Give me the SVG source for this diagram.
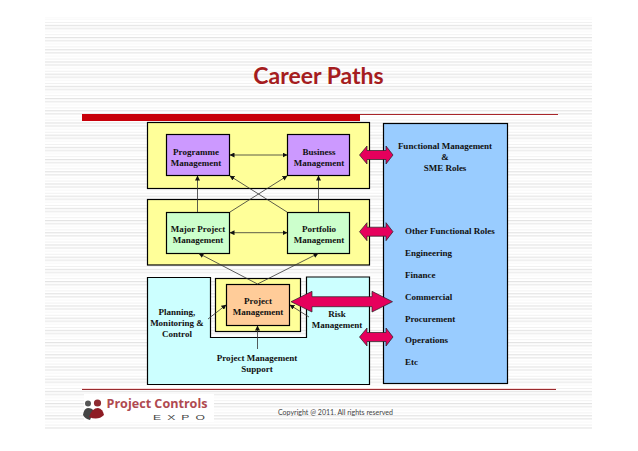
<svg xmlns="http://www.w3.org/2000/svg" width="638" height="451" viewBox="0 0 638 451">
<style>
.p{stroke:#000;stroke-width:1.2}
.c{fill:none;stroke:#333;stroke-width:.8}
.t{font-family:"Liberation Serif",serif;font-weight:bold;font-size:9px;fill:#111;text-anchor:middle}
.l{font-family:"Liberation Serif",serif;font-weight:bold;font-size:9px;fill:#111}
.h{fill:#e6005c;stroke:#222;stroke-width:.7}
</style>
<defs>
<pattern id="st" x="45" y="22" width="20" height="12.2" patternUnits="userSpaceOnUse">
<rect y="0" width="20" height="1" fill="#f1f1f1"/>
<rect y="3" width="20" height="1" fill="#dedede"/>
<rect y="6" width="20" height="1" fill="#e2e2e2"/>
<rect y="9" width="20" height="1" fill="#f7f7f7"/>
</pattern>
<marker id="a" markerWidth="5" markerHeight="5" refX="4.5" refY="2.5" orient="auto-start-reverse" markerUnits="userSpaceOnUse"><path d="M0 0L5 2.5L0 5Z" fill="#111"/></marker>
</defs>
<rect width="638" height="451" fill="#fff"/>
<rect x="45" y="17" width="547" height="412" fill="url(#st)"/>
<text x="318.500" y="84" text-anchor="middle" style="font-family:Lato,sans-serif;font-weight:bold;font-size:23px;fill:#a51c20">Career Paths</text>
<g id="rules">
<rect x="82" y="114" width="278" height="7" fill="#c8000a"/>
<rect x="360" y="114" width="198" height="1" fill="#a8252a"/>
<rect x="82" y="388" width="474" height="1" fill="#f6d8d8"/>
<rect x="82" y="389" width="474" height="1" fill="#9a2a2e"/>
</g>
<g id="panels">
<rect class="p" x="147.500" y="122.500" width="222" height="66" fill="#ffff99"/>
<rect class="p" x="147.500" y="199.500" width="222" height="65.500" fill="#ffff99"/>
<path class="p" d="M147.500 277.500H210.500V337.500H306.500V277H369.500V384.500H147.500Z" fill="#ccffff"/>
<rect class="p" x="215.500" y="278.500" width="85" height="53" fill="#ffff99"/>
</g>
<g id="functional">
<rect class="p" x="383.500" y="123.500" width="124" height="260" fill="#99ccff"/>
<text class="t" x="445" y="149">Functional Management</text>
<text class="t" x="445" y="160">&amp;</text>
<text class="t" x="445" y="171">SME Roles</text>
<text class="l" x="405" y="234">Other Functional Roles</text>
<text class="l" x="405" y="256">Engineering</text>
<text class="l" x="405" y="278">Finance</text>
<text class="l" x="405" y="300">Commercial</text>
<text class="l" x="405" y="322">Procurement</text>
<text class="l" x="405" y="343">Operations</text>
<text class="l" x="405" y="365">Etc</text>
</g>
<g id="programme">
<rect class="p" x="166.500" y="134.500" width="63" height="41" fill="#cc99ff"/>
<text class="t" x="196" y="154.500">Programme</text>
<text class="t" x="196" y="166">Management</text>
</g>
<g id="business">
<rect class="p" x="287.500" y="134.500" width="62" height="41" fill="#cc99ff"/>
<text class="t" x="319" y="154.500">Business</text>
<text class="t" x="319" y="166">Management</text>
</g>
<g id="major">
<rect class="p" x="166.500" y="212.500" width="63" height="41" fill="#ccffcc"/>
<text class="t" x="198" y="231.700">Major Project</text>
<text class="t" x="198" y="242.700">Management</text>
</g>
<g id="portfolio">
<rect class="p" x="287.500" y="212.500" width="62" height="41" fill="#ccffcc"/>
<text class="t" x="319" y="231.700">Portfolio</text>
<text class="t" x="319" y="242.700">Management</text>
</g>
<g id="project">
<rect class="p" x="226.500" y="284.500" width="63" height="41" fill="#ffcc99"/>
<text class="t" x="258" y="303.700">Project</text>
<text class="t" x="258" y="314.700">Management</text>
</g>
<g id="planning">
<text class="t" x="177" y="315.300">Planning,</text>
<text class="t" x="177" y="326">Monitoring &amp;</text>
<text class="t" x="177" y="337">Control</text>
</g>
<g id="risk">
<text class="t" x="337" y="317">Risk</text>
<text class="t" x="337" y="328">Management</text>
</g>
<g id="support">
<text class="t" x="257" y="361">Project Management</text>
<text class="t" x="257" y="372">Support</text>
</g>
<g id="connectors">
<path class="c" d="M230 155H287" marker-start="url(#a)" marker-end="url(#a)"/>
<path class="c" d="M230 232.700H287" marker-start="url(#a)" marker-end="url(#a)"/>
<path class="c" d="M197.500 212V176" marker-end="url(#a)"/>
<path class="c" d="M318.500 212V176" marker-end="url(#a)"/>
<path class="c" d="M230 212L287 176" marker-end="url(#a)"/>
<path class="c" d="M287 212L230 176" marker-end="url(#a)"/>
<path class="c" d="M257.500 284L199 253.500" marker-end="url(#a)"/>
<path class="c" d="M257.500 284L318 253.500" marker-end="url(#a)"/>
<path class="c" d="M208 319L226 305" marker-end="url(#a)"/>
<path class="c" d="M309 317L290 305" marker-end="url(#a)"/>
<path class="c" d="M257.500 349V326" marker-end="url(#a)"/>
<path class="h" d="M359.500 155L367 146V150.500H386V146L393 155L386 164V159.500H367V164Z"/>
<path class="h" d="M359.500 231.700L367 222.700V227.200H386V222.700L393 231.700L386 240.700V236.200H367V240.700Z"/>
<path class="h" d="M359.500 337L367 328V332.500H386V328L393 337L386 346V341.500H367V346Z"/>
<path class="h" d="M291 301.700L312 291.300V296.700H372V291.300L392.500 301.700L372 312V306.700H312V312Z"/>
</g>
<g id="logo">
<rect x="84" y="394" width="130" height="28" fill="#fff"/>
<circle cx="88" cy="403.500" r="3" fill="#555"/>
<circle cx="97.500" cy="403" r="3.600" fill="#8e2a30"/>
<path d="M83 415Q84 408 88 408Q92 408 94 411L90 420Q85 419 83 415Z" fill="#444"/>
<path d="M89 417Q92 408 98 408Q103 409 104 415Q98 421 89 417Z" fill="#8e1c24"/>
<text x="106.500" y="408" textLength="101" lengthAdjust="spacingAndGlyphs" style="font-family:'Open Sans',sans-serif;font-weight:bold;font-size:13px;fill:#b04a50">Project Controls</text>
<text x="153" y="419.500" textLength="58" lengthAdjust="spacingAndGlyphs" style="font-family:'Liberation Sans',sans-serif;font-size:8px;letter-spacing:4px;fill:#444">EXPO</text>
</g>
<text x="278" y="415" textLength="115" lengthAdjust="spacingAndGlyphs" style="font-family:Lato,sans-serif;font-size:7.500px;fill:#444">Copyright @ 2011. All rights reserved</text>
</svg>
